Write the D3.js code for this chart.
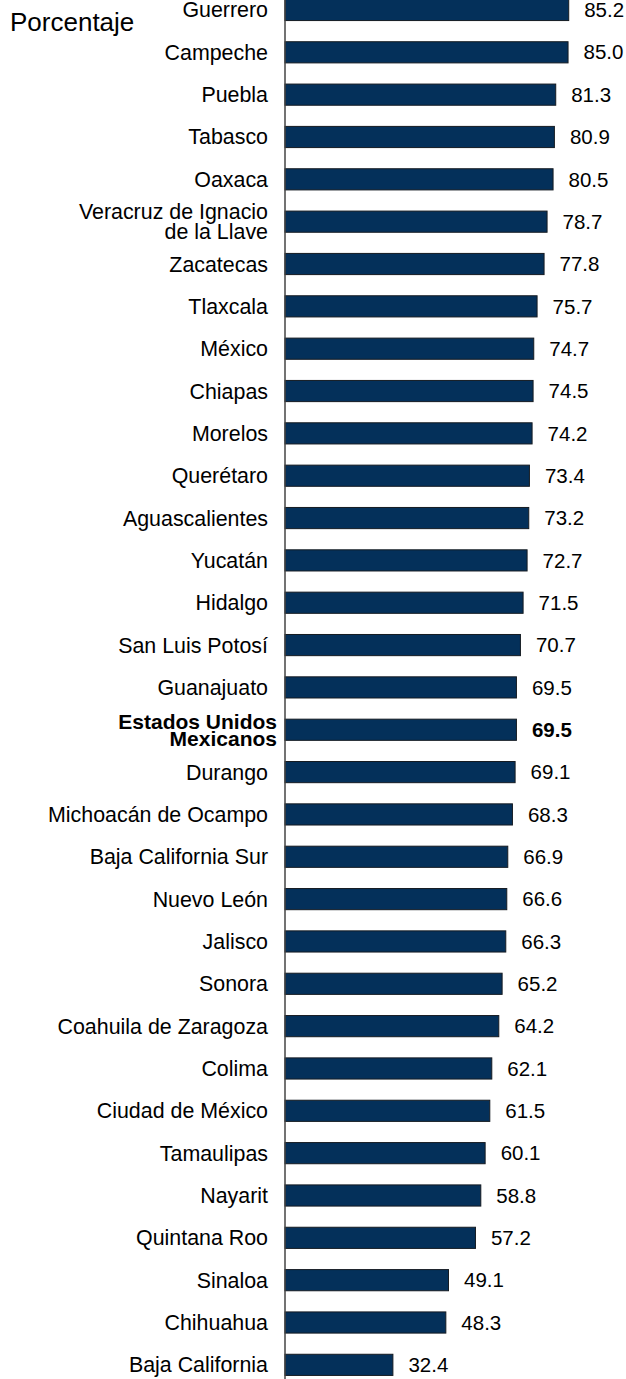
<!DOCTYPE html>
<html>
<head>
<meta charset="utf-8">
<script src="https://cdn.jsdelivr.net/npm/d3@7"></script>
<style>
  body { margin: 0; background: #fff; }
  text { font-family: "Liberation Sans", Arial, sans-serif; fill: #000; }
</style>
</head>
<body>
<div id="chart"></div>
<script>
// datos
var estados = [
  "Guerrero", "Campeche", "Puebla", "Tabasco", "Oaxaca",
  "Veracruz de Ignacio\nde la Llave", "Zacatecas", "Tlaxcala", "México", "Chiapas",
  "Morelos", "Querétaro", "Aguascalientes", "Yucatán", "Hidalgo",
  "San Luis Potosí", "Guanajuato", "Estados Unidos\nMexicanos", "Durango", "Michoacán de Ocampo",
  "Baja California Sur", "Nuevo León", "Jalisco", "Sonora", "Coahuila de Zaragoza",
  "Colima", "Ciudad de México", "Tamaulipas", "Nayarit", "Quintana Roo",
  "Sinaloa", "Chihuahua", "Baja California"
];
var porcentajes = [
  85.2, 85.0, 81.3, 80.9, 80.5,
  78.7, 77.8, 75.7, 74.7, 74.5,
  74.2, 73.4, 73.2, 72.7, 71.5,
  70.7, 69.5, 69.5, 69.1, 68.3,
  66.9, 66.6, 66.3, 65.2, 64.2,
  62.1, 61.5, 60.1, 58.8, 57.2,
  49.1, 48.3, 32.4
];
var nacional = "Estados Unidos\nMexicanos";

var width = 626, height = 1379;
var axisX = 285;

var svg = d3.select("#chart").append("svg")
    .attr("width", width)
    .attr("height", height);

var data = estados.map(function(d, i) { return {name: d, value: porcentajes[i]}; });

var x = d3.scaleLinear()
    .domain([0, 100])
    .range([axisX, axisX + 333]);

var y = d3.scaleBand()
    .domain(estados)
    .range([-11.2, -11.2 + 33 * 42.34])
    .paddingInner(0.5)
    .paddingOuter(0.25);

svg.selectAll(".bar")
    .data(data)
  .enter().append("rect")
    .attr("class", "bar")
    .attr("x", x(0))
    .attr("y", function(d) { return y(d.name); })
    .attr("width", function(d) { return x(d.value) - x(0); })
    .attr("height", y.bandwidth())
    .attr("fill", "#04305a")
    .attr("stroke", "#151b22")
    .attr("stroke-width", 1);

// valores
svg.selectAll(".valor")
    .data(data)
  .enter().append("text")
    .attr("class", "valor")
    .attr("x", function(d) { return x(d.value) + 15.5; })
    .attr("y", function(d) { return y(d.name) + y.bandwidth() / 2; })
    .attr("dy", "0.35em")
    .style("font-size", "20.5px")
    .style("font-weight", function(d) { return d.name === nacional ? "bold" : "normal"; })
    .text(function(d) { return d.value.toFixed(1); });

// etiquetas
var etiquetas = svg.selectAll(".etiqueta")
    .data(data)
  .enter().append("text")
    .attr("class", "etiqueta")
    .attr("text-anchor", "end")
    .style("font-size", function(d) { return d.name === nacional ? "21px" : "21.4px"; })
    .style("font-weight", function(d) { return d.name === nacional ? "bold" : "normal"; });

etiquetas.each(function(d) {
  var lines = d.name.split("\n");
  var bold = d.name === nacional;
  var lh = bold ? 17 : 20;
  var cy = y(d.name) + y.bandwidth() / 2;
  var tx = bold ? 277 : 268;
  var t = d3.select(this);
  lines.forEach(function(l, k) {
    t.append("tspan")
      .attr("x", tx)
      .attr("y", cy + (k - (lines.length - 1) / 2) * lh)
      .attr("dy", "0.35em")
      .text(l);
  });
});

// eje
svg.append("line")
    .attr("x1", axisX).attr("x2", axisX)
    .attr("y1", 0).attr("y2", height)
    .attr("stroke", "#444")
    .attr("stroke-width", 1.5);

svg.append("text")
    .attr("x", 10)
    .attr("y", 31)
    .style("font-size", "26px")
    .text("Porcentaje");
</script>
</body>
</html>
